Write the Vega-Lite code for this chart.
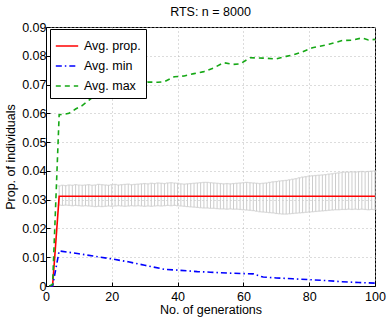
{
  "$schema": "https://vega.github.io/schema/vega-lite/v6.json",
  "autosize": "none",
  "width": 329,
  "height": 259,
  "padding": {"left": 46, "top": 27, "right": 13, "bottom": 32},
  "background": "white",
  "config": {
    "font": "Liberation Sans",
    "view": {"stroke": "black", "strokeWidth": 1}
  },
  "title": {"text": "RTS: n = 8000", "fontSize": 12.5, "fontWeight": "normal", "font": "Liberation Sans", "color": "black", "offset": 3},
  "datasets": {
    "bars": [
      {"gen":4,"lo":0.0281,"hi":0.0348},{"gen":5,"lo":0.0280,"hi":0.0350},{"gen":6,"lo":0.0281,"hi":0.0349},{"gen":7,"lo":0.0280,"hi":0.0351},{"gen":8,"lo":0.0279,"hi":0.0350},{"gen":9,"lo":0.0280,"hi":0.0352},{"gen":10,"lo":0.0279,"hi":0.0351},{"gen":11,"lo":0.0278,"hi":0.0350},{"gen":12,"lo":0.0279,"hi":0.0351},{"gen":13,"lo":0.0278,"hi":0.0352},{"gen":14,"lo":0.0277,"hi":0.0350},{"gen":15,"lo":0.0276,"hi":0.0351},{"gen":16,"lo":0.0277,"hi":0.0353},{"gen":17,"lo":0.0276,"hi":0.0352},{"gen":18,"lo":0.0277,"hi":0.0351},{"gen":19,"lo":0.0278,"hi":0.0350},{"gen":20,"lo":0.0277,"hi":0.0352},{"gen":21,"lo":0.0278,"hi":0.0353},{"gen":22,"lo":0.0279,"hi":0.0351},{"gen":23,"lo":0.0278,"hi":0.0352},{"gen":24,"lo":0.0277,"hi":0.0353},{"gen":25,"lo":0.0278,"hi":0.0354},{"gen":26,"lo":0.0279,"hi":0.0352},{"gen":27,"lo":0.0278,"hi":0.0353},{"gen":28,"lo":0.0279,"hi":0.0354},{"gen":29,"lo":0.0278,"hi":0.0355},{"gen":30,"lo":0.0277,"hi":0.0356},{"gen":31,"lo":0.0278,"hi":0.0355},{"gen":32,"lo":0.0277,"hi":0.0357},{"gen":33,"lo":0.0278,"hi":0.0356},{"gen":34,"lo":0.0279,"hi":0.0358},{"gen":35,"lo":0.0278,"hi":0.0357},{"gen":36,"lo":0.0279,"hi":0.0356},{"gen":37,"lo":0.0280,"hi":0.0358},{"gen":38,"lo":0.0279,"hi":0.0359},{"gen":39,"lo":0.0280,"hi":0.0358},{"gen":40,"lo":0.0279,"hi":0.0357},{"gen":41,"lo":0.0278,"hi":0.0355},{"gen":42,"lo":0.0277,"hi":0.0354},{"gen":43,"lo":0.0276,"hi":0.0355},{"gen":44,"lo":0.0275,"hi":0.0356},{"gen":45,"lo":0.0274,"hi":0.0357},{"gen":46,"lo":0.0273,"hi":0.0358},{"gen":47,"lo":0.0272,"hi":0.0359},{"gen":48,"lo":0.0271,"hi":0.0360},{"gen":49,"lo":0.0271,"hi":0.0360},{"gen":50,"lo":0.0270,"hi":0.0359},{"gen":51,"lo":0.0270,"hi":0.0358},{"gen":52,"lo":0.0269,"hi":0.0357},{"gen":53,"lo":0.0268,"hi":0.0356},{"gen":54,"lo":0.0268,"hi":0.0355},{"gen":55,"lo":0.0267,"hi":0.0356},{"gen":56,"lo":0.0268,"hi":0.0355},{"gen":57,"lo":0.0267,"hi":0.0356},{"gen":58,"lo":0.0267,"hi":0.0357},{"gen":59,"lo":0.0266,"hi":0.0358},{"gen":60,"lo":0.0265,"hi":0.0359},{"gen":61,"lo":0.0264,"hi":0.0360},{"gen":62,"lo":0.0263,"hi":0.0359},{"gen":63,"lo":0.0262,"hi":0.0358},{"gen":64,"lo":0.0260,"hi":0.0357},{"gen":65,"lo":0.0258,"hi":0.0356},{"gen":66,"lo":0.0257,"hi":0.0357},{"gen":67,"lo":0.0256,"hi":0.0358},{"gen":68,"lo":0.0255,"hi":0.0360},{"gen":69,"lo":0.0254,"hi":0.0362},{"gen":70,"lo":0.0252,"hi":0.0363},{"gen":71,"lo":0.0251,"hi":0.0365},{"gen":72,"lo":0.0250,"hi":0.0366},{"gen":73,"lo":0.0250,"hi":0.0367},{"gen":74,"lo":0.0251,"hi":0.0369},{"gen":75,"lo":0.0252,"hi":0.0371},{"gen":76,"lo":0.0253,"hi":0.0373},{"gen":77,"lo":0.0254,"hi":0.0376},{"gen":78,"lo":0.0255,"hi":0.0378},{"gen":79,"lo":0.0256,"hi":0.0380},{"gen":80,"lo":0.0257,"hi":0.0382},{"gen":81,"lo":0.0258,"hi":0.0383},{"gen":82,"lo":0.0259,"hi":0.0384},{"gen":83,"lo":0.0260,"hi":0.0385},{"gen":84,"lo":0.0261,"hi":0.0386},{"gen":85,"lo":0.0262,"hi":0.0387},{"gen":86,"lo":0.0263,"hi":0.0389},{"gen":87,"lo":0.0264,"hi":0.0390},{"gen":88,"lo":0.0265,"hi":0.0392},{"gen":89,"lo":0.0265,"hi":0.0393},{"gen":90,"lo":0.0266,"hi":0.0395},{"gen":91,"lo":0.0266,"hi":0.0396},{"gen":92,"lo":0.0267,"hi":0.0396},{"gen":93,"lo":0.0266,"hi":0.0397},{"gen":94,"lo":0.0267,"hi":0.0396},{"gen":95,"lo":0.0266,"hi":0.0397},{"gen":96,"lo":0.0267,"hi":0.0398},{"gen":97,"lo":0.0266,"hi":0.0397},{"gen":98,"lo":0.0265,"hi":0.0398},{"gen":99,"lo":0.0266,"hi":0.0399},{"gen":100,"lo":0.0265,"hi":0.0400}
    ],
    "lines": [
      {"series":"Avg. prop.","gen":1,"v":0},{"series":"Avg. prop.","gen":2,"v":0},{"series":"Avg. prop.","gen":3,"v":0.0155},{"series":"Avg. prop.","gen":4,"v":0.0312},{"series":"Avg. prop.","gen":100,"v":0.0312},
      {"series":"Avg. min","gen":1,"v":0},{"series":"Avg. min","gen":2,"v":0},{"series":"Avg. min","gen":3,"v":0.006},{"series":"Avg. min","gen":4,"v":0.0122},{"series":"Avg. min","gen":10,"v":0.0112},{"series":"Avg. min","gen":15,"v":0.0103},{"series":"Avg. min","gen":20,"v":0.0094},{"series":"Avg. min","gen":25,"v":0.0084},{"series":"Avg. min","gen":30,"v":0.0072},{"series":"Avg. min","gen":36,"v":0.0058},{"series":"Avg. min","gen":40,"v":0.0055},{"series":"Avg. min","gen":46,"v":0.0050},{"series":"Avg. min","gen":50,"v":0.0048},{"series":"Avg. min","gen":55,"v":0.0045},{"series":"Avg. min","gen":60,"v":0.0043},{"series":"Avg. min","gen":63,"v":0.0042},{"series":"Avg. min","gen":66,"v":0.0031},{"series":"Avg. min","gen":70,"v":0.0028},{"series":"Avg. min","gen":75,"v":0.0025},{"series":"Avg. min","gen":80,"v":0.0022},{"series":"Avg. min","gen":85,"v":0.0019},{"series":"Avg. min","gen":90,"v":0.0015},{"series":"Avg. min","gen":95,"v":0.0012},{"series":"Avg. min","gen":100,"v":0.0010},
      {"series":"Avg. max","gen":1,"v":0},{"series":"Avg. max","gen":2,"v":0.0005},{"series":"Avg. max","gen":3,"v":0.030},{"series":"Avg. max","gen":4,"v":0.0595},{"series":"Avg. max","gen":5,"v":0.0596},{"series":"Avg. max","gen":7,"v":0.0600},{"series":"Avg. max","gen":9,"v":0.0615},{"series":"Avg. max","gen":11,"v":0.0627},{"series":"Avg. max","gen":13,"v":0.0645},{"series":"Avg. max","gen":15,"v":0.0663},{"series":"Avg. max","gen":17,"v":0.0675},{"series":"Avg. max","gen":20,"v":0.0692},{"series":"Avg. max","gen":22,"v":0.0695},{"series":"Avg. max","gen":25,"v":0.0697},{"series":"Avg. max","gen":28,"v":0.0700},{"series":"Avg. max","gen":31,"v":0.0709},{"series":"Avg. max","gen":34,"v":0.0708},{"series":"Avg. max","gen":36,"v":0.0710},{"series":"Avg. max","gen":39,"v":0.0727},{"series":"Avg. max","gen":42,"v":0.0730},{"series":"Avg. max","gen":45,"v":0.0738},{"series":"Avg. max","gen":48,"v":0.0745},{"series":"Avg. max","gen":51,"v":0.0758},{"series":"Avg. max","gen":54,"v":0.0776},{"series":"Avg. max","gen":57,"v":0.0770},{"series":"Avg. max","gen":59,"v":0.0772},{"series":"Avg. max","gen":62,"v":0.0793},{"series":"Avg. max","gen":66,"v":0.0792},{"series":"Avg. max","gen":70,"v":0.0789},{"series":"Avg. max","gen":73,"v":0.0798},{"series":"Avg. max","gen":75,"v":0.0803},{"series":"Avg. max","gen":78,"v":0.0814},{"series":"Avg. max","gen":81,"v":0.0828},{"series":"Avg. max","gen":84,"v":0.0835},{"series":"Avg. max","gen":86,"v":0.0840},{"series":"Avg. max","gen":88,"v":0.0846},{"series":"Avg. max","gen":90,"v":0.0853},{"series":"Avg. max","gen":93,"v":0.0854},{"series":"Avg. max","gen":96,"v":0.0862},{"series":"Avg. max","gen":98,"v":0.0855},{"series":"Avg. max","gen":100,"v":0.0857}
    ]
  },
  "encoding": {
    "x": {"field": "gen", "type": "quantitative", "scale": {"domain": [0, 100], "nice": false},
      "axis": {"title": "No. of generations", "values": [0,20,40,60,80,100], "grid": true, "gridColor": "#b8b8b8", "gridDash": [1, 3], "gridOpacity": 1,
        "domainColor": "black", "tickColor": "black", "tickSize": -4, "labelColor": "black", "titleColor": "black",
        "labelFont": "Liberation Sans", "titleFont": "Liberation Sans", "labelFontSize": 12.5, "titleFontSize": 12.5, "titleFontWeight": "normal",
        "labelOverlap": false, "labelFlush": false, "labelPadding": 8, "titlePadding": 1}}
  },
  "layer": [
    {
      "data": {"name": "bars"},
      "mark": {"type": "rule", "color": "#cccccc", "strokeWidth": 1},
      "encoding": {
        "y": {"field": "lo", "type": "quantitative", "scale": {"domain": [0, 0.09], "nice": false},
          "axis": {"title": "Prop. of individuals", "values": [0,0.01,0.02,0.03,0.04,0.05,0.06,0.07,0.08,0.09], "tickCount": 10,
            "grid": true, "gridColor": "#b8b8b8", "gridDash": [1, 3], "gridOpacity": 1,
            "domainColor": "black", "tickColor": "black", "tickSize": -4, "labelColor": "black", "titleColor": "black",
            "labelFont": "Liberation Sans", "titleFont": "Liberation Sans", "labelFontSize": 12.5, "titleFontSize": 12.5, "titleFontWeight": "normal",
            "labelOverlap": false, "labelFlush": false,
            "labelExpr": "datum.value == 0 ? '0' : format(datum.value, '.2f')", "labelPadding": 4, "titlePadding": 4}},
        "y2": {"field": "hi"}
      }
    },
    {
      "data": {"name": "bars"},
      "mark": {"type": "tick", "orient": "horizontal", "color": "#cccccc", "size": 3.4, "thickness": 1.2},
      "encoding": {
        "y": {"field": "lo", "type": "quantitative"}
      }
    },
    {
      "data": {"name": "bars"},
      "mark": {"type": "tick", "orient": "horizontal", "color": "#cccccc", "size": 3.4, "thickness": 1.2},
      "encoding": {
        "y": {"field": "hi", "type": "quantitative"}
      }
    },
    {
      "data": {"name": "lines"},
      "mark": {"type": "line", "strokeWidth": 1.6},
      "encoding": {
        "y": {"field": "v", "type": "quantitative"},
        "color": {"field": "series", "type": "nominal",
          "scale": {"domain": ["Avg. prop.", "Avg. min", "Avg. max"], "range": ["#ff0000", "#0000ff", "#16a816"]},
          "legend": {"title": null, "orient": "none", "legendX": 4, "legendY": 2, "symbolType": "stroke", "symbolSize": 500, "symbolStrokeWidth": 1.6,
            "labelFontSize": 12.5, "labelFont": "Liberation Sans", "labelColor": "black", "labelOffset": 5, "rowPadding": 1,
            "strokeColor": "black", "fillColor": "white", "padding": 5}},
        "strokeDash": {"field": "series", "type": "nominal",
          "scale": {"domain": ["Avg. prop.", "Avg. min", "Avg. max"], "range": [[1, 0], [6, 3, 1.5, 3], [5, 4]]},
          "legend": {"title": null, "orient": "none", "legendX": 4, "legendY": 2, "symbolType": "stroke", "symbolSize": 500, "symbolStrokeWidth": 1.6,
            "labelFontSize": 12.5, "labelFont": "Liberation Sans", "labelColor": "black", "labelOffset": 5, "rowPadding": 1,
            "strokeColor": "black", "fillColor": "white", "padding": 5}},
        "order": {"field": "gen", "type": "quantitative"}
      }
    }
  ]
}
